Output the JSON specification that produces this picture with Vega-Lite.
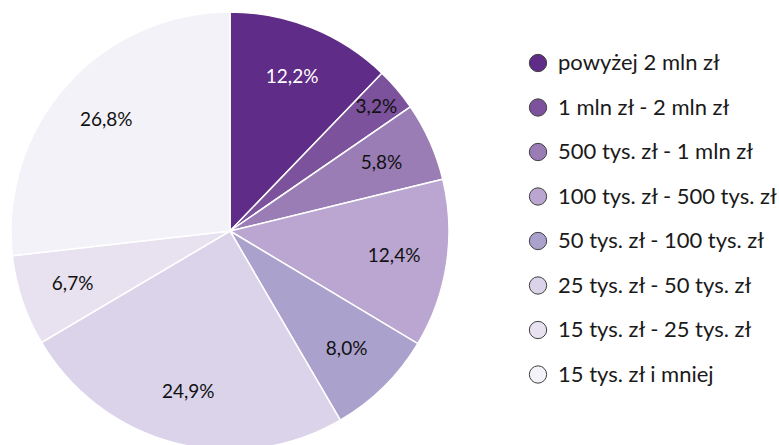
{
  "$schema": "https://vega.github.io/schema/vega-lite/v6.json",
  "width": 460,
  "height": 446,
  "autosize": {"type": "none"},
  "padding": {"top": 8, "left": 0, "right": 319, "bottom": 0},
  "background": "white",
  "config": {"view": {"stroke": null}},
  "data": {
    "values": [
      {"idx": 1, "cat": "powyżej 2 mln zł", "share": 12.2, "label": "12,2%"},
      {"idx": 2, "cat": "1 mln zł - 2 mln zł", "share": 3.2, "label": "3,2%"},
      {"idx": 3, "cat": "500 tys. zł - 1 mln zł", "share": 5.8, "label": "5,8%"},
      {"idx": 4, "cat": "100 tys. zł - 500 tys. zł", "share": 12.4, "label": "12,4%"},
      {"idx": 5, "cat": "50 tys. zł - 100 tys. zł", "share": 8.0, "label": "8,0%"},
      {"idx": 6, "cat": "25 tys. zł - 50 tys. zł", "share": 24.9, "label": "24,9%"},
      {"idx": 7, "cat": "15 tys. zł - 25 tys. zł", "share": 6.7, "label": "6,7%"},
      {"idx": 8, "cat": "15 tys. zł i mniej", "share": 26.8, "label": "26,8%"}
    ]
  },
  "encoding": {
    "theta": {"field": "share", "type": "quantitative", "stack": true},
    "order": {"field": "idx", "type": "quantitative"}
  },
  "layer": [
    {
      "mark": {"type": "arc", "outerRadius": 219, "stroke": "white", "strokeWidth": 1.5},
      "encoding": {
        "color": {
          "field": "cat",
          "type": "nominal",
          "sort": {"field": "idx"},
          "scale": {
            "domain": ["powyżej 2 mln zł", "1 mln zł - 2 mln zł", "500 tys. zł - 1 mln zł", "100 tys. zł - 500 tys. zł", "50 tys. zł - 100 tys. zł", "25 tys. zł - 50 tys. zł", "15 tys. zł - 25 tys. zł", "15 tys. zł i mniej"],
            "range": ["#5F2C87", "#7B529B", "#9A7DB5", "#BAA6D0", "#ABA1CD", "#DBD3EA", "#E7E1F0", "#F3F2F9"]
          },
          "legend": {
            "orient": "none",
            "legendX": 527,
            "legendY": 44,
            "title": null,
            "symbolType": "circle",
            "symbolSize": 300,
            "symbolStrokeColor": "#404040",
            "symbolStrokeWidth": 1,
            "labelFont": "Lato",
            "labelFontSize": 22,
            "labelColor": "#1a1a1a",
            "labelOffset": 9,
            "rowPadding": 22.5,
            "labelLimit": 400,
            "encode": {"symbols": {"update": {"shape": {"value": "circle"}}}}
          }
        }
      }
    },
    {
      "mark": {"type": "text", "radius": {"expr": "datum.share < 4 ? 192 : 166"}, "font": "Lato", "fontSize": 19},
      "encoding": {
        "text": {"field": "label", "type": "nominal"},
        "color": {"condition": {"test": "datum.idx == 1", "value": "white"}, "value": "#111111"}
      }
    }
  ]
}
